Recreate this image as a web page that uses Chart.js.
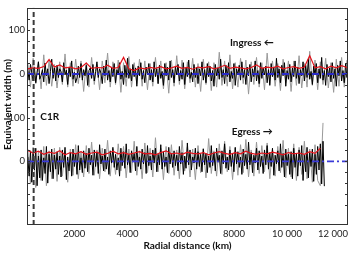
<!DOCTYPE html>
<html><head><meta charset="utf-8">
<script src="https://cdn.jsdelivr.net/npm/chart.js@4/dist/chart.umd.min.js"></script>
<style>html,body{margin:0;padding:0;background:#fff}#wrap{width:349px;height:253px}</style>
</head><body><div id="wrap"><canvas id="c" width="349" height="253"></canvas></div>
<script>
// Radial distance sampling (km)
const radialKm = [
250,300,350,400,450,500,550,600,650,700,750,800,850,900,950,1000,1050,1100,1150,1200,1250,1300,
1350,1400,1450,1500,1550,1600,1650,1700,1750,1800,1850,1900,1950,2000,2050,2100,2150,2200,2250,2300,2350,2400,
2450,2500,2550,2600,2650,2700,2750,2800,2850,2900,2950,3000,3050,3100,3150,3200,3250,3300,3350,3400,3450,3500,
3550,3600,3650,3700,3750,3800,3850,3900,3950,4000,4050,4100,4150,4200,4250,4300,4350,4400,4450,4500,4550,4600,
4650,4700,4750,4800,4850,4900,4950,5000,5050,5100,5150,5200,5250,5300,5350,5400,5450,5500,5550,5600,5650,5700,
5750,5800,5850,5900,5950,6000,6050,6100,6150,6200,6250,6300,6350,6400,6450,6500,6550,6600,6650,6700,6750,6800,
6850,6900,6950,7000,7050,7100,7150,7200,7250,7300,7350,7400,7450,7500,7550,7600,7650,7700,7750,7800,7850,7900,
7950,8000,8050,8100,8150,8200,8250,8300,8350,8400,8450,8500,8550,8600,8650,8700,8750,8800,8850,8900,8950,9000,
9050,9100,9150,9200,9250,9300,9350,9400,9450,9500,9550,9600,9650,9700,9750,9800,9850,9900,9950,10000,10050,10100,
10150,10200,10250,10300,10350,10400,10450,10500,10550,10600,10650,10700,10750,10800,10850,10900,10950,11000,11050,11100,11150,11200,
11250,11300,11350,11400,11450,11500,11550,11600,11650,11700,11750,11800,11850,11900,11950,12000,12050,12100,12150,12200,12250,12300];

// Ingress: equivalent width (m), black trace, every radialKm point
const ingressWidth = [
8,-14,22,3,-16,15,-20,4,28,-12,-3,10,-18,25,-4,12,-22,6,34,-10,14,-16,
20,-8,12,5,-18,26,-2,9,-24,16,-6,30,-12,4,-20,-9,18,-8,24,-14,10,-4,
20,-26,8,14,-10,22,-16,6,28,-8,12,2,-22,18,-4,32,-14,8,-18,14,-6,24,
-20,10,-2,26,-12,6,-24,20,-8,36,-10,12,-16,22,-6,14,-28,18,-4,26,-12,8,
-20,16,-2,24,-14,10,-18,28,-6,12,-22,20,-10,6,-26,24,-4,16,-14,30,-8,10,
-20,18,-2,22,-16,8,-12,26,-24,14,-6,32,-10,4,-18,22,-8,16,-22,12,-4,28,
-14,10,-20,24,-6,18,-16,8,-28,22,-4,14,-12,34,-8,10,-22,20,-6,26,-18,6,
-10,24,-26,12,-2,20,-14,28,-8,10,-24,16,-4,22,-18,12,-6,30,-16,8,-22,26,
-10,14,-2,18,-20,10,-26,24,-6,16,-14,36,-8,12,-20,20,-4,26,-28,8,-12,22,
-18,14,-6,30,-10,16,-22,10,-4,28,-16,20,-8,34,-12,6,-24,18,-2,24,-20,12,
-10,38,-14,8,-26,22,-6,14,-18,26,-10,12,-28,20,-4,30,-16,8,-20,24,-8,18];

// Ingress: noisier profile (grey), every 2nd radialKm point
const ingressWidthRaw = [
24,-30,36,-22,28,-34,44,-26,30,-28,22,
-32,28,-24,46,-30,26,-28,34,-22,30,-40,
26,-30,38,-24,22,-36,30,-20,48,-30,28,
-24,32,-42,26,-28,40,-30,26,-22,34,-28,
30,-36,24,-28,38,-22,30,-34,26,-44,32,
-28,42,-24,32,-34,28,-20,36,-30,24,-40,
34,-24,28,-38,26,-30,50,-26,30,-28,44,
-34,26,-30,36,-22,32,-46,28,-24,38,-30,
26,-36,48,-22,30,-28,24,-38,34,-20,30,
-40,30,-26,42,-32,24,-30,52,-26,32,-36,
28,-24,36,-32,26,-42,34,-28,38,-30,32];

// Ingress: smoothed mean (red), every 4th radialKm point
const ingressMean = [
12,14,13,17,33,16,21,14,16,12,15,25,13,15,14,20,13,15,38,12,
8,14,12,15,13,17,12,14,18,13,15,11,16,14,17,12,15,20,13,16,
14,12,15,21,13,16,14,18,12,15,17,13,16,42,14,17,12,18,14,19,15];

// Egress: equivalent width (m), black trace
const egressWidth = [
10,-34,24,-48,18,-20,30,-56,12,-38,26,-44,8,-28,34,-50,16,-24,28,-40,14,-18,
22,-30,12,-36,26,-14,32,-42,10,-22,20,-34,28,-12,16,-30,36,-20,8,-26,24,-16,
18,-24,30,-8,14,-32,26,-12,20,-28,38,-6,12,-22,28,-18,10,-30,24,-4,32,-14,
16,-20,8,-34,30,-10,22,-16,40,-8,14,-26,24,-2,18,-22,34,-12,10,-18,28,-6,
20,-28,36,-10,12,-20,26,-4,30,-24,16,-8,38,-18,22,-12,10,-26,32,-6,18,-14,
24,-10,14,-22,34,-6,20,-30,12,-16,42,-8,26,-20,10,-4,30,-18,22,-12,16,-24,
28,-8,18,-26,12,-14,36,-10,20,-22,30,-2,14,-28,24,-6,40,-16,10,-20,26,-12,
18,-24,32,-6,22,-14,10,-30,28,-10,16,-18,44,-8,20,-26,14,-4,30,-20,24,-12,
12,-28,26,-8,36,-18,20,-12,30,-32,14,-6,24,-22,40,-14,18,-36,28,-10,16,-30,
22,-40,30,-14,18,-34,26,-10,36,-44,14,-24,32,-38,20,-12,28,-46,16,-30,34,-20,
40,-52,46,-57];

// Egress: noisier profile (grey)
const egressWidthRaw = [
28,-52,32,-60,22,-44,34,-56,24,-40,30,
-46,32,-34,24,-48,28,-32,38,-40,22,-36,
36,-28,44,-32,26,-40,30,-24,48,-34,28,
-30,40,-22,34,-38,28,-26,46,-32,24,-40,
42,-26,30,-36,54,-24,30,-42,34,-28,38,
-32,26,-40,48,-22,32,-36,28,-42,36,-26,
30,-38,52,-28,24,-34,40,-30,46,-24,34,
-42,30,-32,38,-26,50,-36,26,-34,44,-28,
36,-24,42,-40,28,-34,34,-26,48,-38,30,
-36,40,-44,32,-30,46,-40,28,-48,38,-44,
-56,88];

// Egress: smoothed mean (red)
const egressMean = [
25,19,23,16,21,18,24,15,20,17,22,16,19,21,15,18,23,17,20,16,
19,22,17,18,15,20,24,17,19,16,21,18,17,20,15,19,22,18,16,20,
17,23,18,16,19,17,21,18,15,20,17,19,16,22,18,30];

const c1rKm = 470;                 // C1R ring location
const xTickLabels = {2000:'2000',4000:'4000',6000:'6000',8000:'8000',10000:'10 000',12000:'12 000'};
const yTickLabels = {0:'0',100:'100',200:'0',300:'100'};

// layout constants
const X_MIN = 220, X_MAX = 12290, Y_MIN = -146, Y_MAX = 352;
const OFF_INGRESS = 200, OFF_EGRESS = 0;
const FONT = 'Lato, "Open Sans", sans-serif';

function toPts(ys, stride, off){ return ys.map((v,i)=>({x: radialKm[i*stride], y: v + off})); }

const lineBase = {pointRadius:0, tension:0, fill:false, borderJoinStyle:'miter'};
const datasets = [
  Object.assign({}, lineBase, {data:[{x:c1rKm,y:Y_MIN},{x:c1rKm,y:Y_MAX}], borderColor:'#3a3a3a', borderWidth:2, borderDash:[5,3], order:0}),
  Object.assign({}, lineBase, {data:[{x:X_MIN,y:OFF_INGRESS},{x:X_MAX,y:OFF_INGRESS}], borderColor:'#2a2ac8', borderWidth:1.8, borderDash:[7,3,2,3], order:1}),
  Object.assign({}, lineBase, {data:[{x:X_MIN,y:OFF_EGRESS},{x:X_MAX,y:OFF_EGRESS}], borderColor:'#3a3ad8', borderWidth:1.8, borderDash:[7,3,2,3], order:1}),
  Object.assign({}, lineBase, {data:toPts(ingressMean,4,OFF_INGRESS), borderColor:'#e3121a', borderWidth:1.2, order:2}),
  Object.assign({}, lineBase, {data:toPts(egressMean,4,OFF_EGRESS), borderColor:'#e3121a', borderWidth:1.2, order:2}),
  Object.assign({}, lineBase, {data:toPts(ingressWidth,1,OFF_INGRESS), borderColor:'#000', borderWidth:1, order:3}),
  Object.assign({}, lineBase, {data:toPts(egressWidth,1,OFF_EGRESS), borderColor:'#000', borderWidth:1, order:3}),
  Object.assign({}, lineBase, {data:toPts(ingressWidthRaw,2,OFF_INGRESS), borderColor:'#999', borderWidth:1, order:4}),
  Object.assign({}, lineBase, {data:toPts(egressWidthRaw,2,OFF_EGRESS), borderColor:'#999', borderWidth:1, order:4})
];

const framePlugin = {
  id:'frame',
  afterDatasetsDraw(chart){
    const {ctx, chartArea:a, scales:{x, y}} = chart;
    ctx.save();
    ctx.strokeStyle = '#333'; ctx.lineWidth = 1;
    ctx.beginPath();
    x.ticks.forEach(t=>{ if (t.value % 1000 === 0){ const px = Math.round(x.getPixelForValue(t.value))+0.5;
      ctx.moveTo(px, a.bottom); ctx.lineTo(px, a.bottom-3); ctx.moveTo(px, a.top); ctx.lineTo(px, a.top+3);} });
    y.ticks.forEach(t=>{ if (t.value % 25 === 0){ const py = Math.round(y.getPixelForValue(t.value))+0.5;
      ctx.moveTo(a.left, py); ctx.lineTo(a.left+3, py); ctx.moveTo(a.right, py); ctx.lineTo(a.right-3, py);} });
    ctx.stroke();
    ctx.strokeRect(Math.round(a.left)+0.5, Math.round(a.top)+0.5, Math.round(a.right-a.left)-1, Math.round(a.bottom-a.top)-1);
    // x tick labels
    ctx.fillStyle = '#222';
    ctx.font = '9.5px ' + FONT;
    ctx.textAlign = 'center'; ctx.textBaseline = 'middle';
    Object.keys(xTickLabels).forEach(k=>{
      const txt = xTickLabels[k];
      const w = ctx.measureText(txt).width;
      let px = x.getPixelForValue(+k);
      px = Math.min(px, chart.width - 1 - w/2);
      ctx.fillText(txt, px, a.bottom + 9);
    });
    // y axis title
    ctx.save();
    ctx.fillStyle = '#111';
    ctx.font = 'bold 10px ' + FONT;
    ctx.translate(8, y.getPixelForValue(130));
    ctx.rotate(-Math.PI/2);
    ctx.fillText('Equivalent width (m)', 0, 0);
    ctx.restore();
    // annotations
    ctx.fillStyle = '#111';
    ctx.font = 'bold 10px ' + FONT;
    ctx.textAlign = 'left';
    ctx.fillText('Ingress \u2190', x.getPixelForValue(7850), y.getPixelForValue(OFF_INGRESS+72));
    ctx.fillText('Egress \u2192', x.getPixelForValue(7920), y.getPixelForValue(OFF_EGRESS+67));
    ctx.fillText('C1R', x.getPixelForValue(720), y.getPixelForValue(OFF_EGRESS+102));
    ctx.restore();
  }
};

new Chart(document.getElementById('c'), {
  type:'line',
  data:{datasets},
  options:{
    responsive:false, animation:false, events:[],
    layout:{padding:{top:1,right:1,left:0,bottom:0}},
    plugins:{legend:{display:false}, tooltip:{enabled:false}},
    scales:{
      x:{type:'linear', min:X_MIN, max:X_MAX,
         grid:{display:false, drawTicks:false}, border:{display:false},
         ticks:{display:false, stepSize:1000, maxTicksLimit:100, autoSkip:false},
         title:{display:true, text:'Radial distance (km)', color:'#111',
                font:{family:FONT, size:10, weight:'bold'}, padding:{top:0,bottom:1}},
         afterFit:(s)=>{ s.height = 28; }},
      y:{type:'linear', min:Y_MIN, max:Y_MAX,
         grid:{display:false, drawTicks:false}, border:{display:false},
         ticks:{stepSize:25, maxTicksLimit:100, autoSkip:false, padding:2, color:'#222',
                font:{family:FONT, size:9.5},
                callback:(v)=> (v in yTickLabels) ? yTickLabels[v] : ''},
         title:{display:false},
         afterFit:(s)=>{ s.width = 27; }}
    }
  },
  plugins:[framePlugin]
});
</script></body></html>
